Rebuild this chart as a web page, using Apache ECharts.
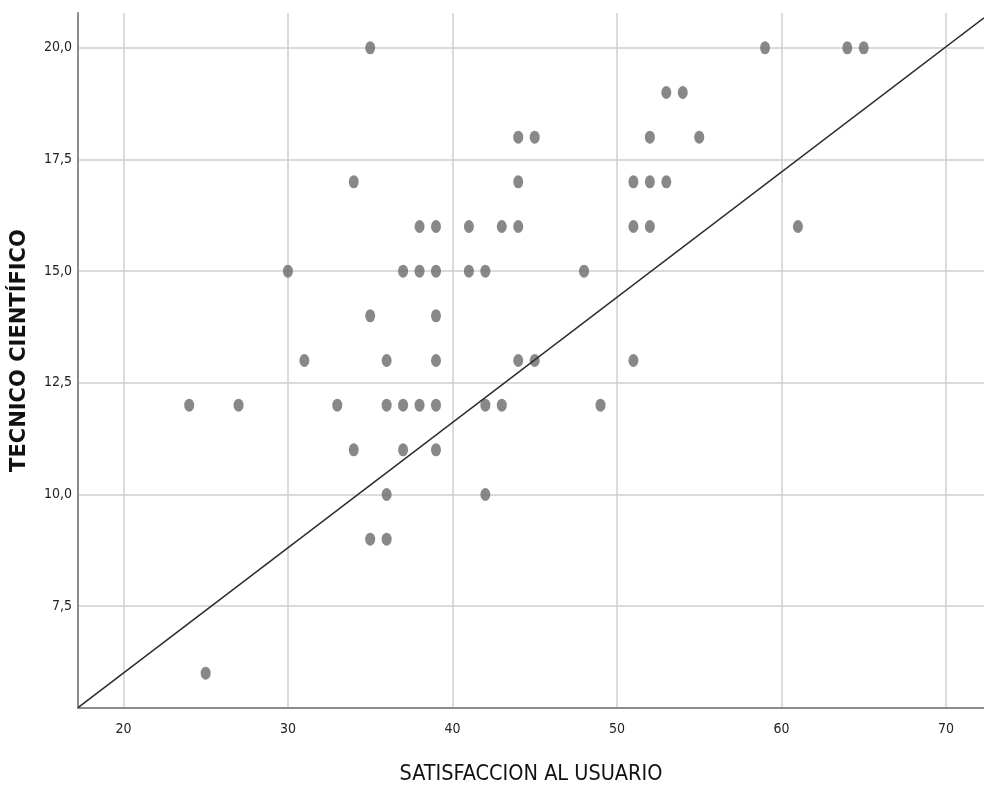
<!DOCTYPE html>
<html>
<head>
<meta charset="utf-8">
<script src="https://cdn.jsdelivr.net/npm/echarts@6/dist/echarts.min.js"></script>
<style>
html,body{margin:0;padding:0;background:#fff;}
#chart{width:984px;height:785px;}
</style>
</head>
<body>
<div id="chart"></div>
<script>
// Data
const satisfaccion = [35,59,64,65, 53,54, 44,45,52,55, 34,44,51,52,53,
  38,39,41,43,44,51,52,61, 30,37,38,39,41,42,48, 35,39,
  31,36,39,44,45,51, 24,27,33,36,37,38,39,42,43,49, 34,37,39, 36,42, 35,36, 25];
const tecnico = [20,20,20,20, 19,19, 18,18,18,18, 17,17,17,17,17,
  16,16,16,16,16,16,16,16, 15,15,15,15,15,15,15, 14,14,
  13,13,13,13,13,13, 12,12,12,12,12,12,12,12,12,12, 11,11,11, 10,10, 9,9, 6];
const fitX = [17.24, 72.31];
const fitY = [5.23, 20.67];
const xTicks = [20, 30, 40, 50, 60, 70];
const yTicks = [7.5, 10, 12.5, 15, 17.5, 20];

const narrow = '"Liberation Sans Narrow", "DejaVu Sans Condensed", sans-serif';
const chart = echarts.init(document.getElementById('chart'), null, {renderer: 'canvas'});
chart.setOption({
  animation: false,
  backgroundColor: '#ffffff',
  grid: {left: 78, right: 0, top: 13, bottom: 77, containLabel: false, outerBoundsMode: 'none'},
  xAxis: {
    type: 'value', min: 17.24, max: 72.31,
    name: 'SATISFACCION AL USUARIO', nameLocation: 'middle', nameGap: 55,
    nameTextStyle: {fontFamily: narrow, fontSize: 21.5, color: '#111'},
    axisLine: {show: true, lineStyle: {color: '#8c8c8c', width: 2}},
    axisTick: {show: false, customValues: xTicks},
    axisLabel: {customValues: xTicks, fontFamily: narrow, fontSize: 14, color: '#222', margin: 14},
    splitLine: {show: true, lineStyle: {color: '#cfcfcf', width: 1.5}}
  },
  yAxis: {
    type: 'value', min: 5.22, max: 20.78,
    name: 'TECNICO CIENTÍFICO', nameLocation: 'middle', nameGap: 48, nameRotate: 90,
    nameTextStyle: {fontFamily: '"DejaVu Sans", sans-serif', fontWeight: 'bold', fontSize: 21, color: '#111', padding: [0, 0, 0, 20]},
    axisLine: {show: true, lineStyle: {color: '#8c8c8c', width: 2}},
    axisTick: {show: false, customValues: yTicks},
    axisLabel: {customValues: yTicks, fontFamily: narrow, fontSize: 14, color: '#222', margin: 6,
      formatter: v => v.toFixed(1).replace('.', ',')},
    splitLine: {show: true, lineStyle: {color: '#cfcfcf', width: 1.5}}
  },
  series: [
    {
      type: 'scatter',
      data: satisfaccion.map((x, i) => [x, tecnico[i]]),
      symbol: 'circle', symbolSize: [10, 13],
      itemStyle: {color: '#6a6a6a'},
      z: 3
    },
    {
      type: 'line',
      data: fitX.map((x, i) => [x, fitY[i]]),
      symbol: 'none',
      lineStyle: {color: '#2a2a2a', width: 1.5},
      z: 4
    }
  ]
});
</script>
</body>
</html>
